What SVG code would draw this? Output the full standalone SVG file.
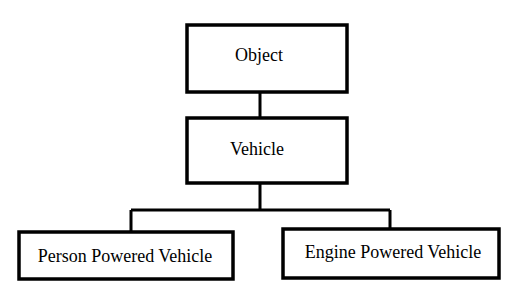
<svg xmlns="http://www.w3.org/2000/svg" width="525" height="305" viewBox="0 0 525 305">
<style>
.box{fill:#fff;stroke:#000;stroke-width:3.5}
.lbl{font-family:'Liberation Serif','Times New Roman',serif;font-size:18px;fill:#000;text-anchor:middle}
.con{fill:none;stroke:#000;stroke-width:3}
</style>
<rect width="525" height="305" fill="#fff"/>
<g id="connectors">
<path class="con" d="M260 92 V118"/>
<path class="con" d="M260 183 V210 M131 210 H390 M131 210 V232 M390 210 V229"/>
</g>
<g id="object"><rect class="box" x="187" y="25" width="160" height="67"/><text class="lbl" x="259" y="61">Object</text></g>
<g id="vehicle"><rect class="box" x="187" y="118" width="160" height="65"/><text class="lbl" x="257" y="155">Vehicle</text></g>
<g id="person"><rect class="box" x="19" y="232" width="214" height="47"/><text class="lbl" x="125" y="262">Person Powered Vehicle</text></g>
<g id="engine"><rect class="box" x="283" y="229" width="216" height="49"/><text class="lbl" x="393" y="258">Engine Powered Vehicle</text></g>
</svg>
